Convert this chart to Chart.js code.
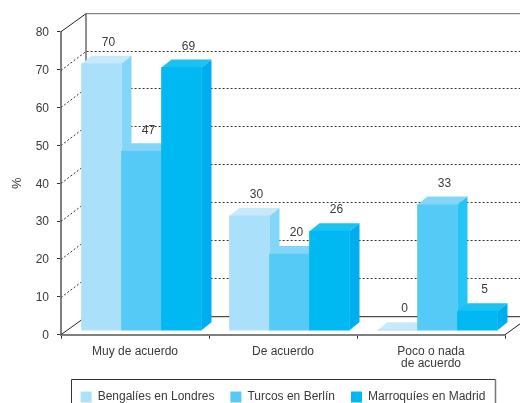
<!DOCTYPE html>
<html><head><meta charset="utf-8">
<style>html,body{margin:0;padding:0;background:#fff;overflow:hidden}canvas{display:block}</style>
<script src="https://cdn.jsdelivr.net/npm/chart.js@4"></script></head>
<body><canvas id="c" width="520" height="403"></canvas>
<script>
const categories = ['Muy de acuerdo', 'De acuerdo', ['Poco o nada', 'de acuerdo']];
const seriesNames = ['Bengalíes en Londres', 'Turcos en Berlín', 'Marroquíes en Madrid'];
const bengalies = [70, 30, 0];
const turcos = [47, 20, 33];
const marroquies = [69, 26, 5];
const frontColors = ['#ABE0FB', '#55CAF7', '#00B9F2'];
const topColors = ['#C6EAFB', '#83D6F9', '#1CC1F4'];
const sideColors = ['#83D5F9', '#25C4F6', '#00AEEF'];
const TEXT = '#3A3A3C', DX = 25, DY = 18, GRID_DY = 19, BAR_SHIFT = 6.5, BD = 10, BH = 8;

Chart.defaults.font.family = '"Liberation Sans", Arial, sans-serif';
Chart.defaults.font.size = 12;
Chart.defaults.color = TEXT;

const depth = {
  id: 'depth',
  beforeDatasetsDraw(chart) {
    const c = chart.ctx, a = chart.chartArea, y = chart.scales.y;
    c.save();
    c.lineWidth = 1; c.strokeStyle = '#333'; c.setLineDash([2, 2]);
    y.ticks.forEach(t => {
      if (t.value === 0 || t.value === 80) return;
      const p = Math.round(y.getPixelForValue(t.value)) + .5;
      c.beginPath(); c.moveTo(a.left, p); c.lineTo(a.left + DX, p - GRID_DY); c.lineTo(chart.width + 5, p - GRID_DY); c.stroke();
    });
    c.setLineDash([]);
    const top = y.getPixelForValue(80), bot = y.getPixelForValue(0);
    c.strokeStyle = '#222';
    c.beginPath(); c.moveTo(a.left, top); c.lineTo(a.left + DX, top - DY); c.lineTo(a.left + DX, bot - DY);
    c.moveTo(a.left, bot); c.lineTo(a.left + DX, bot - DY); c.lineTo(a.right + DX, bot - DY); c.lineTo(a.right, bot); c.stroke();
    c.strokeStyle = '#666';
    c.beginPath(); c.moveTo(a.left + DX, top - DY); c.lineTo(chart.width + 5, top - DY); c.stroke();
    c.restore();
    // bars left to right, each with its top and side faces, through the bar elements
    c.save();
    c.translate(BAR_SHIFT, 0);
    chart.data.datasets.forEach((ds, i) => {
      const meta = chart.getDatasetMeta(i);
      meta.data.forEach(b => {
        const w = b.width / 2, x0 = b.x - w, x1 = b.x + w, t = b.y, base = b.base;
        c.fillStyle = topColors[i];
        c.beginPath(); c.moveTo(x0, t); c.lineTo(x0 + BD, t - BH); c.lineTo(x1 + BD, t - BH); c.lineTo(x1, t); c.closePath(); c.fill();
        c.fillStyle = sideColors[i];
        c.beginPath(); c.moveTo(x1, t); c.lineTo(x1 + BD, t - BH); c.lineTo(x1 + BD, base - BH); c.lineTo(x1, base); c.closePath(); c.fill();
      });
      meta.controller.draw();
    });
    c.restore();
  },
  beforeDatasetDraw() { return false; },
  afterDatasetsDraw(chart) {
    const c = chart.ctx;
    c.save();
    c.fillStyle = TEXT; c.font = '12px "Liberation Sans", Arial, sans-serif';
    c.textAlign = 'center'; c.textBaseline = 'middle';
    chart.data.datasets.forEach((ds, i) => {
      chart.getDatasetMeta(i).data.forEach((b, j) => {
        c.fillText(String(ds.data[j]), b.x + BAR_SHIFT + 7, b.y - 21);
      });
    });
    c.restore();
  },
  afterDraw(chart) {
    const c = chart.ctx, h = chart.legend.legendHitBoxes, l = chart.legend;
    c.save();
    c.lineWidth = 1;
    c.strokeStyle = '#333';
    const L = Math.round(h[0].left - 10) + .5, R = Math.round(h[h.length - 1].left + h[h.length - 1].width + 10) + .5, T = Math.round(l.top + 4) + .5;
    c.beginPath(); c.moveTo(L, chart.height + 5); c.lineTo(L, T); c.lineTo(R, T); c.stroke();
    c.strokeStyle = '#777'; c.lineWidth = 1.5;
    c.beginPath(); c.moveTo(R, T); c.lineTo(R, chart.height + 5); c.stroke();
    c.restore();
  }
};

new Chart(document.getElementById('c'), {
  type: 'bar',
  data: {
    labels: categories,
    datasets: [
      { label: seriesNames[0], data: bengalies, backgroundColor: frontColors[0], yAxisID: 'yBars', clip: false, barThickness: 40 },
      { label: seriesNames[1], data: turcos, backgroundColor: frontColors[1], yAxisID: 'yBars', clip: false, barThickness: 40 },
      { label: seriesNames[2], data: marroquies, backgroundColor: frontColors[2], yAxisID: 'yBars', clip: false, barThickness: 40 }
    ]
  },
  plugins: [depth],
  options: {
    responsive: false,
    animation: false,
    layout: { padding: { top: 31.7, right: 15, bottom: -10, left: 0 } },
    plugins: {
      tooltip: { enabled: false },
      legend: {
        position: 'bottom',
        fullSize: false,
        labels: { boxWidth: 11, boxHeight: 11, padding: 16, color: TEXT, font: { size: 12 } }
      }
    },
    scales: {
      x: {
        grid: { drawOnChartArea: false, color: '#333', tickLength: 4 },
        border: { color: '#808080', width: 2 },
        ticks: { padding: 7, color: TEXT, maxRotation: 0, autoSkip: false, font: { size: 12, lineHeight: 1 } },
        afterFit(s) { s.height = 40.3; }
      },
      y: {
        min: 0, max: 80,
        ticks: { stepSize: 10, padding: 8, color: TEXT, labelOffset: 1 },
        grid: { drawOnChartArea: false, color: '#333', tickLength: 4 },
        border: { color: '#808080', width: 2 },
        title: { display: true, text: '%', color: TEXT, font: { size: 13 }, padding: { top: 10, bottom: 0 } },
        afterFit(s) { s.width = 61; }
      },
      yBars: { display: false, min: -1.19, max: 78.39 }
    }
  }
});
</script></body></html>
